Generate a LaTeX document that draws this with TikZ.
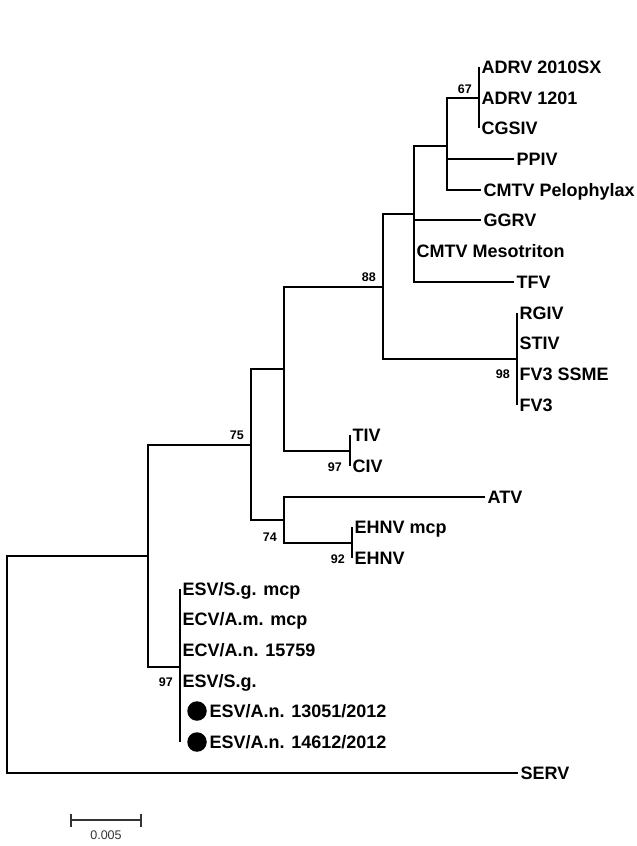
\documentclass[tikz,border=0pt]{standalone}
\usepackage{fontspec}
\setmainfont{Liberation Sans}
\usetikzlibrary{positioning}

\begin{document}
\begin{tikzpicture}[x=1pt,y=-1pt,
    branch/.style={line width=2pt},
    taxon/.style={anchor=base west,inner sep=0pt,xshift=2.5pt,yshift=-6.4pt,font=\bfseries\fontsize{18}{21}\selectfont},
    boot/.style={anchor=base east,inner sep=0pt,font=\bfseries\fontsize{12.5}{14}\selectfont},
    isolate/.style={circle,fill=black,inner sep=0pt,minimum size=19.5pt},
    scalebar/.style={line width=1.2pt,black!80}]
    \useasboundingbox (0,0) rectangle (637,846);
    % internal nodes
    \coordinate (rt) at (7,664);
    \coordinate (a) at (148,556);
    \coordinate (n75) at (251,445);
    \coordinate (b) at (284,369);
    \coordinate (n88) at (383,287);
    \coordinate (c) at (414,214);
    \coordinate (d) at (447,146);
    \coordinate (n67) at (479,98);
    \coordinate (fv3) at (517,359);
    \coordinate (tiv) at (350,451);
    \coordinate (n74) at (284,520);
    \coordinate (ehnv) at (352,543);
    \coordinate (esv) at (180,667);
    % leaf ends
    \coordinate (l1) at (479,67);
    \coordinate (l2) at (479,98);
    \coordinate (l3) at (479,128);
    \coordinate (l4) at (514,159);
    \coordinate (l5) at (481,190);
    \coordinate (l6) at (481,220);
    \coordinate (l7) at (414,251);
    \coordinate (l8) at (514,282);
    \coordinate (l9) at (517,313);
    \coordinate (l10) at (517,343);
    \coordinate (l11) at (517,374);
    \coordinate (l12) at (517,405);
    \coordinate (l13) at (350,435);
    \coordinate (l14) at (350,466);
    \coordinate (l15) at (485,497);
    \coordinate (l16) at (352,527);
    \coordinate (l17) at (352,558);
    \coordinate (l18) at (180,589);
    \coordinate (l19) at (180,619);
    \coordinate (l20) at (180,650);
    \coordinate (l21) at (180,681);
    \coordinate (l22) at (180,711);
    \coordinate (l23) at (180,742);
    \coordinate (l24) at (518,773);
    % branches
    \draw[branch] (rt) |- (a) (rt) |- (l24); % root
    \draw[branch] (a) |- (n75) (a) |- (esv);
    \draw[branch] (n75) |- (b) (n75) |- (n74);
    \draw[branch] (b) |- (n88) (b) |- (tiv);
    \draw[branch] (n88) |- (c) (n88) |- (fv3);
    \draw[branch] (c) |- (d) (c) |- (l6) (c) |- (l7) (c) |- (l8);
    \draw[branch] (d) |- (n67) (d) |- (l4) (d) |- (l5);
    \draw[branch] (n67) |- (l1) (n67) |- (l2) (n67) |- (l3); % ADRV group
    \draw[branch] (fv3) |- (l9) (fv3) |- (l10) (fv3) |- (l11) (fv3) |- (l12); % FV3 group
    \draw[branch] (tiv) |- (l13) (tiv) |- (l14);
    \draw[branch] (n74) |- (l15) (n74) |- (ehnv);
    \draw[branch] (ehnv) |- (l16) (ehnv) |- (l17);
    \draw[branch] (esv) |- (l18) (esv) |- (l23); % ESV group
    % taxa
    \node[taxon] (adrvsx) at (l1) {ADRV 2010SX};
    \node[taxon] (adrv) at (l2) {ADRV 1201};
    \node[taxon] (cgsiv) at (l3) {CGSIV};
    \node[taxon] (ppiv) at (l4) {PPIV};
    \node[taxon] (cmtvp) at (l5) {CMTV Pelophylax};
    \node[taxon] (ggrv) at (l6) {GGRV};
    \node[taxon] (cmtvm) at (l7) {CMTV Mesotriton};
    \node[taxon] (tfv) at (l8) {TFV};
    \node[taxon] (rgiv) at (l9) {RGIV};
    \node[taxon] (stiv) at (l10) {STIV};
    \node[taxon] (fvssme) at (l11) {FV3 SSME};
    \node[taxon] (fv) at (l12) {FV3};
    \node[taxon] (tivl) at (l13) {TIV};
    \node[taxon] (civ) at (l14) {CIV};
    \node[taxon] (atv) at (l15) {ATV};
    \node[taxon] (ehnvmcp) at (l16) {EHNV mcp};
    \node[taxon] (ehnvl) at (l17) {EHNV};
    \node[taxon] (esvsgmcp) at (l18) {ESV/S.g. mcp};
    \node[taxon] (ecvammcp) at (l19) {ECV/A.m. mcp};
    \node[taxon] (ecvan) at (l20) {ECV/A.n. 15759};
    \node[taxon] (esvsg) at (l21) {ESV/S.g.};
    \node[isolate] (dot1) at ([xshift=17pt]l22) {};
    \node[isolate] (dot2) at ([xshift=17pt]l23) {};
    \node[taxon] (esvana) at (dot1.east) {ESV/A.n. 13051/2012};
    \node[taxon] (esvanb) at (dot2.east) {ESV/A.n. 14612/2012};
    \node[taxon] (serv) at (l24) {SERV};
    % bootstrap values
    \node[boot] (bs67) at ([xshift=-7pt,yshift=5pt]n67) {67};
    \node[boot] (bs88) at ([xshift=-7pt,yshift=6pt]n88) {88};
    \node[boot] (bs75) at ([xshift=-7pt,yshift=6pt]n75) {75};
    \node[boot] (bs74) at ([xshift=-7pt,yshift=-21pt]n74) {74};
    \node[boot] (bs97a) at ([xshift=-8pt,yshift=-20pt]tiv) {97};
    \node[boot] (bs98) at ([xshift=-7pt,yshift=-19pt]fv3) {98};
    \node[boot] (bs92) at ([xshift=-7pt,yshift=-20pt]ehnv) {92};
    \node[boot] (bs97b) at ([xshift=-7pt,yshift=-19pt]esv) {97};
    % scale bar
    \coordinate (sbl) at (71,820);
    \coordinate (sbr) at (141,820);
    \draw[scalebar] (sbl) -- (sbr);
    \draw[scalebar] ([yshift=6.5pt]sbl) -- ([yshift=-6.5pt]sbl);
    \draw[scalebar] ([yshift=6.5pt]sbr) -- ([yshift=-6.5pt]sbr);
    \node[font=\fontsize{12.5}{14}\selectfont,text=black!80,inner sep=0pt] (sblab) at (106,835) {0.005};
\end{tikzpicture}
\end{document}
